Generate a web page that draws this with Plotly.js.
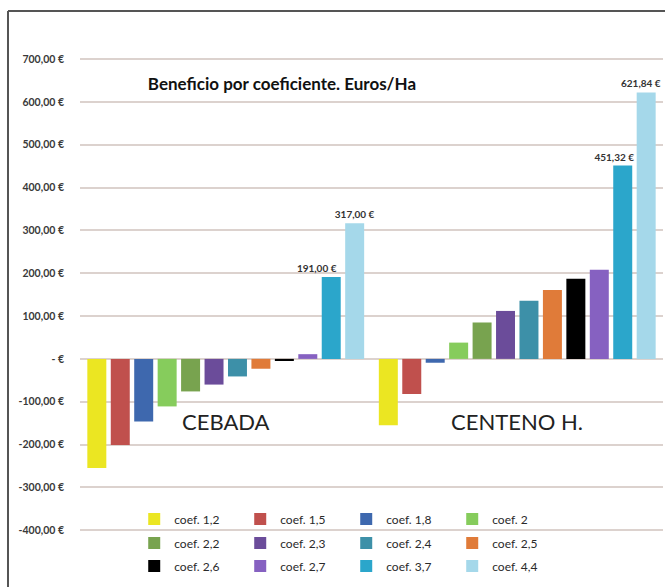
<!DOCTYPE html>
<html>
<head>
<meta charset="utf-8">
<script src="https://cdn.plot.ly/plotly-3.0.1.min.js"></script>
<style>html,body{margin:0;padding:0;background:#fff;}#chart{width:665px;height:587px;}</style>
</head>
<body>
<div id="chart"></div>
<script>
// ---- data ----
var categories = ['CEBADA', 'CENTENO H.'];
var coefNames = ['coef. 1,2', 'coef. 1,5', 'coef. 1,8', 'coef. 2', 'coef. 2,2', 'coef. 2,3',
                 'coef. 2,4', 'coef. 2,5', 'coef. 2,6', 'coef. 2,7', 'coef. 3,7', 'coef. 4,4'];
var cebada  = [-255, -201, -146, -111, -76, -60, -41, -23, -5, 11, 191, 317];
var centeno = [-155, -82, -9, 38, 85, 112, 136, 161, 187, 208, 451.32, 621.84];
var labeledCoefs = ['coef. 3,7', 'coef. 4,4'];
var tickVals = [-400, -300, -200, -100, 0, 100, 200, 300, 400, 500, 600, 700];
var tickText = ['-400,00 €', '-300,00 €', '-200,00 €', '-100,00 €', '- €', '100,00 €',
                '200,00 €', '300,00 €', '400,00 €', '500,00 €', '600,00 €', '700,00 €'];
var chartTitle = 'Beneficio por coeficiente. Euros/Ha';

// ---- styles ----
var colors = ['#ebe622', '#c0504d', '#3e68ae', '#86cc5c', '#78a34f', '#6b4c9a',
              '#3d90a8', '#e07b39', '#000000', '#8661c1', '#2ba6cb', '#a5d8ea'];
// trailing non-breaking spaces shift a label left (as in the original), per category
var labelPad = {'coef. 3,7': [12, 7], 'coef. 4,4': [0, 0]};
// labels that sit against the right edge of the plot instead of over the bar
var labelAtEdge = {'coef. 3,7': [false, false], 'coef. 4,4': [false, true]};
var labelFont = {family: 'Lato, sans-serif', size: 10, color: '#333', weight: 'bold'};

function fmt(v) { return v.toFixed(2).replace('.', ',') + ' €'; }
function pad(n) { return new Array(n + 1).join('\u00a0'); }

var edgeAnnotations = [];
var traces = coefNames.map(function (name, i) {
  var ys = [cebada[i], centeno[i]];
  var show = labeledCoefs.indexOf(name) >= 0;
  var texts = ys.map(function (v, j) {
    if (!show) return '';
    if (labelAtEdge[name][j]) {
      edgeAnnotations.push({x: 1, xref: 'paper', xanchor: 'right', y: v, yref: 'y',
        yanchor: 'bottom', yshift: 2, text: fmt(v), showarrow: false, font: labelFont});
      return '';
    }
    return fmt(v) + pad(labelPad[name][j]);
  });
  return {
    type: 'bar',
    name: name,
    x: categories,
    y: ys,
    marker: {color: colors[i], line: {width: 0}},
    text: texts,
    textposition: 'outside',
    constraintext: 'none',
    cliponaxis: false,
    textfont: labelFont,
    legend: i < 4 ? 'legend' : (i < 8 ? 'legend2' : 'legend3'),
    hoverinfo: 'name+y'
  };
});

var legBase = {
  orientation: 'h',
  xanchor: 'left',
  yanchor: 'middle',
  x: 0.093,
  bgcolor: 'rgba(0,0,0,0)',
  entrywidth: 61,
  entrywidthmode: 'pixels',
  font: {family: 'Lato, sans-serif', size: 12, color: '#2a2a2a'},
  itemclick: false
};
function leg(y) { var o = JSON.parse(JSON.stringify(legBase)); o.y = y; return o; }

var layout = {
  width: 665,
  height: 587,
  margin: {l: 80, r: 2, t: 42, b: 14},
  paper_bgcolor: '#ffffff',
  plot_bgcolor: '#ffffff',
  barmode: 'group',
  bargap: 0.035,
  bargroupgap: 0.19,
  showlegend: true,
  legend: leg(0.1017),
  legend2: leg(0.0565),
  legend3: leg(0.0132),
  title: {
    text: '<b>' + chartTitle + '</b>',
    x: 0.424, xanchor: 'center', xref: 'container',
    y: 0.857, yanchor: 'middle', yref: 'container',
    font: {family: 'Lato, sans-serif', size: 17, color: '#111', weight: 'bold'}
  },
  xaxis: {
    type: 'category',
    showticklabels: false,
    showgrid: false,
    showline: false,
    zeroline: false,
    ticks: ''
  },
  yaxis: {
    range: [-500, 740],
    tickvals: tickVals,
    ticktext: tickText,
    showgrid: true,
    gridcolor: '#dcd2ce',
    gridwidth: 2,
    zeroline: true,
    zerolinecolor: '#dcd2ce',
    zerolinewidth: 2,
    showline: false,
    ticks: '',
    ticklabelstandoff: 15,
    tickfont: {family: 'Lato, sans-serif', size: 10.5, color: '#3a3a3a', weight: 'bold'}
  },
  annotations: [
    {x: categories[0], y: -147, xref: 'x', yref: 'y', text: categories[0], showarrow: false,
     font: {family: 'Lato, sans-serif', size: 22, color: '#222'}},
    {x: categories[1], y: -147, xref: 'x', yref: 'y', text: categories[1], showarrow: false,
     font: {family: 'Lato, sans-serif', size: 22, color: '#222'}}
  ].concat(edgeAnnotations),
  shapes: [
    {type: 'line', xref: 'paper', yref: 'paper', x0: -0.1235, x1: 1.004, y0: 1.0584, y1: 1.0584,
     line: {color: '#555', width: 2}},
    {type: 'line', xref: 'paper', yref: 'paper', x0: -0.1235, x1: -0.1235, y0: 1.0584, y1: -0.03,
     line: {color: '#555', width: 2}}
  ]
};

Plotly.newPlot('chart', traces, layout, {displayModeBar: false, staticPlot: true});
</script>
</body>
</html>
